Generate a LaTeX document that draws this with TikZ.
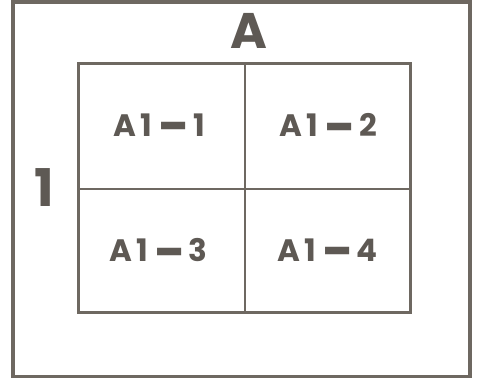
\documentclass[tikz,border=0pt]{standalone}
\usepackage{fontspec}
\usepackage{graphicx}
\setmainfont{Poppins}
\definecolor{linec}{HTML}{6E6861}
\definecolor{textc}{HTML}{5E5954}
\newcommand{\ldash}{\kern6.5pt\raisebox{-8.2pt}{\scalebox{1.4}[1.7]{–}}\kern4.5pt}
\newcommand{\cell}[1]{A\kern4pt 1\ldash #1}
\tikzset{
  lbl/.style={font=\fontsize{31}{31}\selectfont\bfseries, text=textc, inner sep=0pt, anchor=center},
  big/.style={font=\fontsize{50}{50}\selectfont\bfseries, text=textc, inner sep=0pt},
}
\begin{document}
\begin{tikzpicture}[x=1pt,y=-1pt]
\useasboundingbox (0,0) rectangle (480,379);
\fill[white] (0,0) rectangle (480,379);
\draw[linec, line width=3.6pt] (13,2) rectangle (470,376.5);
\draw[linec, line width=3pt] (78,64) rectangle (410,313);
\draw[linec, line width=2pt] (244.5,64) -- (244.5,313);
\draw[linec, line width=2pt] (78,189) -- (410,189);
\node[lbl] (c1) at (159,129.5) {\cell{1}};
\node[lbl] (c2) at (328.5,129.5) {\cell{2}};
\node[lbl] (c3) at (158.5,254.5) {\cell{3}};
\node[lbl] (c4) at (327.5,254.5) {\cell{4}};
\node[big] (ta) at (249,31) {A};
\node[big, font=\fontsize{52}{52}\selectfont\bfseries] (t1) at (44,188) {1};
\end{tikzpicture}
\end{document}
